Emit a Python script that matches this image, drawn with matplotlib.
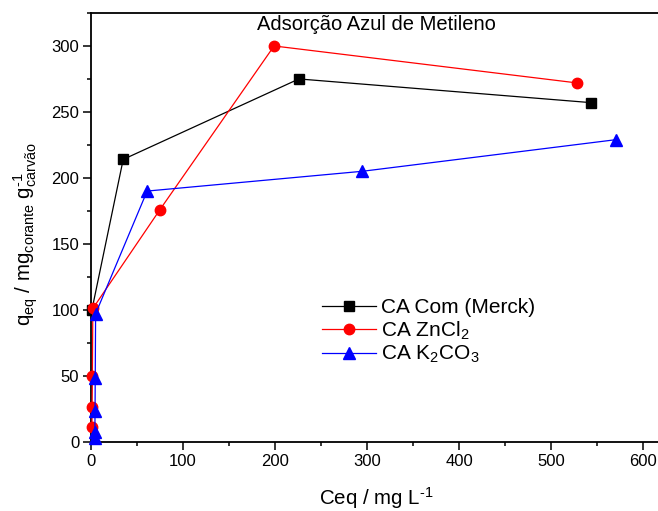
import matplotlib
matplotlib.use("Agg")
import matplotlib.pyplot as plt
from matplotlib.ticker import MultipleLocator

plt.rcParams['font.family'] = ['Liberation Sans', 'DejaVu Sans']
plt.rcParams['mathtext.fontset'] = 'custom'
plt.rcParams['mathtext.rm'] = 'Liberation Sans'
plt.rcParams['mathtext.it'] = 'Liberation Sans:italic'
plt.rcParams['mathtext.bf'] = 'Liberation Sans:bold'

# Adsorption isotherms: equilibrium concentration (mg/L) vs uptake (mg/g)
merck_ceq = [1.0, 35, 226, 544]
merck_q = [100, 214, 275, 257]

zncl2_ceq = [1.0, 1.2, 1.5, 2.0, 75, 199, 528]
zncl2_q = [11, 26, 50, 101, 176, 300, 272]

k2co3_ceq = [4.0, 4.2, 4.4, 4.6, 5.0, 61, 295, 571]
k2co3_q = [3, 7, 23, 48, 97, 190, 205, 229]

labels = ['CA Com (Merck)', 'CA ZnCl$_2$', 'CA K$_2$CO$_3$']

HY = '\u2010'  # typographic hyphen for the "-1" exponents

fig = plt.figure(figsize=(6.58, 5.11), dpi=100)
ax = fig.add_axes([0.1383, 0.1356, 0.8669, 0.839])

ax.plot(merck_ceq, merck_q, color='black', lw=0.9, marker='s', ms=6.5,
        label=labels[0], clip_on=False, zorder=3)
ax.plot(zncl2_ceq, zncl2_q, color='red', lw=0.9, marker='o', ms=7.5,
        label=labels[1], clip_on=False, zorder=4)
ax.plot(k2co3_ceq, k2co3_q, color='blue', lw=0.9, marker='^', ms=8,
        label=labels[2], clip_on=False, zorder=5)

ax.set_xlim(0, 620)
ax.set_ylim(0, 325)
ax.xaxis.set_major_locator(MultipleLocator(100))
ax.xaxis.set_minor_locator(MultipleLocator(50))
ax.yaxis.set_major_locator(MultipleLocator(50))
ax.yaxis.set_minor_locator(MultipleLocator(25))
ax.tick_params(which='major', direction='out', length=5.5, width=1.1,
               labelsize=12, pad=3)
ax.tick_params(which='minor', direction='out', length=3, width=1.1)
ax.tick_params(top=False, right=False)
for s in ['left', 'bottom', 'top']:
    ax.spines[s].set_linewidth(1.3)
ax.spines['right'].set_visible(False)

ax.text(0.5, 0.995, 'Adsorção Azul de Metileno', transform=ax.transAxes,
        ha='center', va='top', fontsize=14.5)

ax.set_xlabel('Ceq / mg L$^{\\mathrm{' + HY + '1}}$', fontsize=14.8,
              labelpad=12)
ax.set_ylabel('q$_{\\mathrm{eq}}$ / mg$_{\\mathrm{corante}}$ '
              'g$^{\\mathrm{' + HY + '1}}_{\\mathrm{carvão}}$', fontsize=14.8)
ax.yaxis.set_label_coords(-0.09, 0.485)

ax.legend(loc='upper left', bbox_to_anchor=(0.39, 0.355), frameon=False,
          fontsize=15, handlelength=2.6, handletextpad=0.25,
          labelspacing=0.12, borderaxespad=0)

fig.savefig('out.png', dpi=100)
